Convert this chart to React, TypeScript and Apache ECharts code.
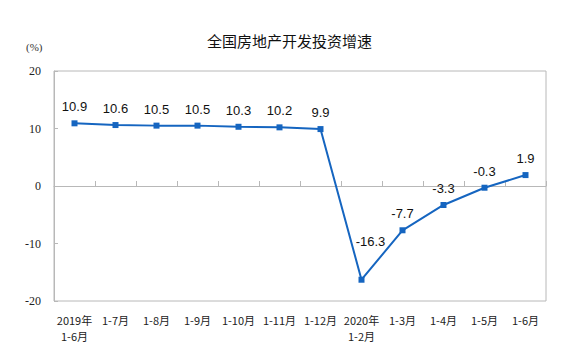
import React, { useEffect, useRef } from "react";
import * as echarts from "echarts";

const categories: string[] = [
  "2019年\n1-6月",
  "1-7月",
  "1-8月",
  "1-9月",
  "1-10月",
  "1-11月",
  "1-12月",
  "2020年\n1-2月",
  "1-3月",
  "1-4月",
  "1-5月",
  "1-6月",
];
const growth: number[] = [10.9, 10.6, 10.5, 10.5, 10.3, 10.2, 9.9, -16.3, -7.7, -3.3, -0.3, 1.9];
const yTicks = { min: -20, max: 20, interval: 10 };
const titleText = "全国房地产开发投资增速";
const unitText = "(%)";

export default function App() {
  const ref = useRef<HTMLDivElement>(null);
  useEffect(() => {
    if (!ref.current) return;
    const chart = echarts.init(ref.current, undefined, { renderer: "svg" });
    const blue = "#1565c0";
    const axisGray = "#b8b8b8";
    chart.setOption({
      animation: false,
      backgroundColor: "#ffffff",
      title: {
        text: titleText,
        left: "center",
        top: 28,
        textStyle: {
          fontFamily: "Noto Sans CJK SC",
          fontSize: 15,
          fontWeight: "normal",
          color: "#111",
        },
      },
      graphic: [
        {
          type: "text",
          left: 26,
          top: 41,
          style: {
            text: unitText,
            font: "11px 'Liberation Serif'",
            fill: "#333",
          },
        },
      ],
      grid: {
        left: 54,
        right: 33,
        top: 71,
        bottom: 63,
        show: true,
        borderColor: axisGray,
        borderWidth: 1,
        backgroundColor: "transparent",
      },
      xAxis: {
        type: "category",
        data: categories,
        boundaryGap: true,
        axisLine: { show: true, lineStyle: { color: axisGray, width: 1 } },
        axisTick: { show: true, inside: true, length: 5, lineStyle: { color: axisGray } },
        axisLabel: {
          interval: 0,
          margin: 11,
          fontFamily: "Noto Sans CJK SC",
          fontSize: 11,
          lineHeight: 16,
          color: "#222",
          verticalAlign: "top",
        },
        splitLine: { show: false },
      },
      yAxis: {
        type: "value",
        min: yTicks.min,
        max: yTicks.max,
        interval: yTicks.interval,
        axisLine: { show: true, lineStyle: { color: axisGray, width: 1 } },
        axisTick: { show: true, inside: true, length: 4, lineStyle: { color: axisGray } },
        axisLabel: {
          margin: 13,
          fontFamily: "Liberation Serif",
          fontSize: 12,
          color: "#222",
        },
        splitLine: { show: false },
      },
      series: [
        {
          type: "line",
          data: growth.map((v, i) =>
            i === 7
              ? { value: v, label: { position: "top", offset: [9, -22] } }
              : v
          ),
          symbol: "rect",
          symbolSize: 6,
          lineStyle: { color: blue, width: 2 },
          itemStyle: { color: blue },
          label: {
            show: true,
            position: "top",
            distance: 7,
            fontFamily: "Liberation Sans",
            fontSize: 13,
            color: "#111",
            formatter: (p: any) => String(p.value),
          },
        },
      ],
    });
    return () => chart.dispose();
  }, []);
  return (
    <div
      ref={ref}
      style={{ position: "fixed", left: 0, top: 0, width: 579, height: 364 }}
    />
  );
}
